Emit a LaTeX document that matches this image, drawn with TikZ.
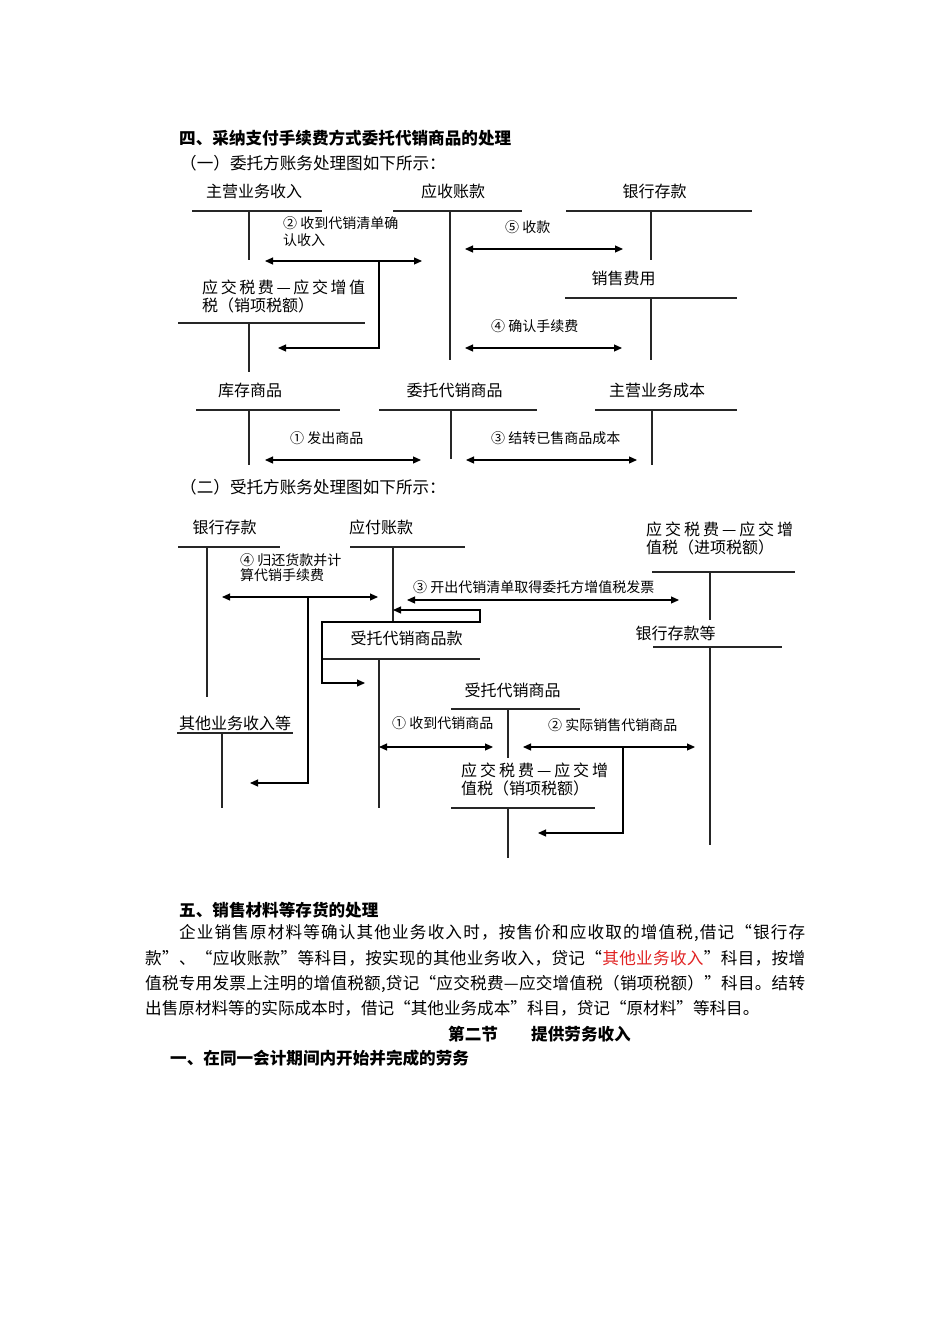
\documentclass[tikz,border=0pt]{standalone}
\usepackage{fontspec}
\usetikzlibrary{arrows.meta}
\newfontfamily\cjk{Noto Sans CJK SC}
\definecolor{redtxt}{RGB}{225,35,35}
\newcommand{\spreadbox}[2]{\hbox to #1{#2}}
\makeatletter
\newcommand{\sparr}[1]{\sp@a#1\@nil}
\def\sp@a#1{\ifx\@nil#1\unskip\else#1\hskip0pt plus 1fil\relax\expandafter\sp@a\fi}
\makeatother
\newcommand{\fillgap}{\hskip0pt plus 1fil\relax}
\tikzset{
  body/.style={font=\cjk\fontsize{16.6}{20}\selectfont, inner sep=0pt, anchor=west},
  acct/.style={font=\cjk\fontsize{16}{19}\selectfont, inner sep=0pt},
  acctw/.style={font=\cjk\fontsize{16}{19}\selectfont, inner sep=0pt, anchor=west},
  lbl/.style={font=\cjk\fontsize{14}{17}\selectfont, inner sep=0pt, anchor=west},
  tline/.style={line width=1.1pt, black!85},
  tip/.tip={Triangle[length=8pt,width=7pt]},
  dbl/.style={line width=1.1pt, tip-tip},
  sgl/.style={line width=1.1pt, -tip},
}
\begin{document}
\begin{tikzpicture}[x=1pt,y=-1pt]
\useasboundingbox (0,0) rectangle (950,1344);
\fill[white] (0,0) rectangle (950,1344);

% ---------- headings ----------
\node[body] (h4) at (179,138) {\bfseries 四、采纳支付手续费方式委托代销商品的处理};
\node[body] (h41) at (180,163) {（一）委托方账务处理图如下所示：};

% ---------- top diagram: accounts ----------
\node[acct] (zyysr) at (254,191) {主营业务收入};
\draw[tline] (192,211) -- (322,211);
\draw[tline] (249,211) -- (249,260);

\node[acct] (yszk) at (453,191) {应收账款};
\draw[tline] (393,211) -- (522,211);
\draw[tline] (450,211) -- (450,360);

\node[acct] (yhck1) at (654.5,191) {银行存款};
\draw[tline] (566,211) -- (752,211);
\draw[tline] (651,211) -- (651,260);

\node[acctw] (sjxx1a) at (202,287) {\spreadbox{163pt}{\sparr{应交税费—应交增值}}};
\node[acctw] (sjxx1b) at (202,305) {税（销项税额）};
\draw[tline] (178,323) -- (365,323);
\draw[tline] (249,323) -- (249,372);

\node[acct] (xsfy) at (623.5,278) {销售费用};
\draw[tline] (565,298) -- (737,298);
\draw[tline] (651,298) -- (651,360);

\node[acct] (kcsp) at (250,390) {库存商品};
\draw[tline] (196,410) -- (340,410);
\draw[tline] (249,410) -- (249,465);

\node[acct] (wtdx) at (454.5,390) {委托代销商品};
\draw[tline] (379,410) -- (537,410);
\draw[tline] (451,410) -- (451,459);

\node[acct] (zyycb) at (657,390) {主营业务成本};
\draw[tline] (595,410) -- (737,410);
\draw[tline] (652,410) -- (652,465);

% ---------- top diagram: arrows ----------
\node[lbl] (t2a) at (283,223) {② 收到代销清单确};
\node[lbl] (t2b) at (283,240) {认收入};
\coordinate (t2l) at (265,261); \coordinate (t2r) at (422,261);
\draw[dbl] (t2l) -- (t2r);
\coordinate (t2s) at (379,261); \coordinate (t2e) at (278,348);
\draw[sgl] (t2s) |- (t2e);

\node[lbl] (t5) at (505,227) {⑤ 收款};
\coordinate (t5l) at (465,249); \coordinate (t5r) at (623,249);
\draw[dbl] (t5l) -- (t5r);

\node[lbl] (t4) at (491,326) {④ 确认手续费};
\coordinate (t4l) at (465,348); \coordinate (t4r) at (622,348);
\draw[dbl] (t4l) -- (t4r);

\node[lbl] (t1) at (290,438) {① 发出商品};
\coordinate (t1l) at (265,460); \coordinate (t1r) at (421,460);
\draw[dbl] (t1l) -- (t1r);

\node[lbl] (t3) at (491,438) {③ 结转已售商品成本};
\coordinate (t3l) at (466,460); \coordinate (t3r) at (637,460);
\draw[dbl] (t3l) -- (t3r);

% ---------- second heading ----------
\node[body] (h42) at (180,487) {（二）受托方账务处理图如下所示：};

% ---------- lower diagram: accounts ----------
\node[acct] (yhck2) at (224.5,527) {银行存款};
\draw[tline] (178,547) -- (280,547);
\draw[tline] (207,547) -- (207,697);

\node[acct] (yfzk) at (381,527) {应付账款};
\draw[tline] (350,547) -- (465,547);
\draw[tline] (393,547) -- (393,622);

\node[acctw] (jxa) at (646,529) {\spreadbox{147pt}{\sparr{应交税费—应交增}}};
\node[acctw] (jxb) at (646,547) {值税（进项税额）};
\draw[tline] (652,572) -- (795,572);
\draw[tline] (710,572) -- (710,620);

\node[acct] (stk) at (406.5,638) {受托代销商品款};
\draw[tline] (322,659) -- (480,659);
\draw[tline] (379,659) -- (379,808);

\node[acct] (yhckd) at (675.5,633) {银行存款等};
\draw[tline] (653,647) -- (782,647);
\draw[tline] (710,647) -- (710,845);

\node[acct] (qtyw) at (235,723) {其他业务收入等};
\draw[tline] (177,733) -- (293,733);
\draw[tline] (222,733) -- (222,808);

\node[acct] (stsp) at (512.5,690) {受托代销商品};
\draw[tline] (451,709) -- (580,709);
\draw[tline] (508,709) -- (508,758);

\node[acctw] (xxa) at (461,770) {\spreadbox{147pt}{\sparr{应交税费—应交增}}};
\node[acctw] (xxb) at (461,788) {值税（销项税额）};
\draw[tline] (451,808) -- (595,808);
\draw[tline] (508,808) -- (508,858);

% ---------- lower diagram: arrows ----------
\node[lbl] (b4a) at (240,560) {④ 归还货款并计};
\node[lbl] (b4b) at (240,575) {算代销手续费};
\coordinate (b4l) at (222,597); \coordinate (b4r) at (378,597);
\draw[dbl] (b4l) -- (b4r);
\coordinate (b4s) at (308,597); \coordinate (b4e) at (250,783);
\draw[sgl] (b4s) |- (b4e);

\node[lbl] (b3) at (413,587) {③ 开出代销清单取得委托方增值税发票};
\coordinate (b3l) at (407,600); \coordinate (b3r) at (679,600);
\draw[dbl] (b3l) -- (b3r);

\coordinate (lpa) at (393,610); \coordinate (lpb) at (365,683);
\draw[dbl] (lpa) -- (480,610) -- (480,622) -- (322,622) -- (322,683) -- (lpb);

\node[lbl] (b1) at (392,723) {① 收到代销商品};
\coordinate (b1l) at (379,747); \coordinate (b1r) at (493,747);
\draw[dbl] (b1l) -- (b1r);

\node[lbl] (b2) at (548,725) {② 实际销售代销商品};
\coordinate (b2l) at (523,747); \coordinate (b2r) at (695,747);
\draw[dbl] (b2l) -- (b2r);
\coordinate (b2s) at (623,747); \coordinate (b2e) at (538,833);
\draw[sgl] (b2s) |- (b2e);

% ---------- text section ----------
\node[body] (h5) at (179,910) {\bfseries 五、销售材料等存货的处理};
\node[body] (p1) at (179,933) {\spreadbox{626pt}{\sparr{企业销售原材料等确认其他业务收入时，按售价和应收取的增值税,借记“银行存}}};
\node[body] (p2) at (145,958) {\spreadbox{660pt}{\sparr{款”、“应收账款”等科目，按实现的其他业务收入，贷记“}\fillgap\textcolor{redtxt}{\sparr{其他业务收入}}\fillgap\sparr{”科目，按增}}};
\node[body] (p3) at (145,984) {\spreadbox{660pt}{\sparr{值税专用发票上注明的增值税额,贷记“应交税费—应交增值税（销项税额）”科目。结转}}};
\node[body] (p4) at (145,1008) {出售原材料等的实际成本时，借记“其他业务成本”科目，贷记“原材料”等科目。};
\node[body] (s2a) at (448,1034) {\bfseries 第二节};
\node[body] (s2b) at (531,1034) {\bfseries 提供劳务收入};
\node[body] (h1) at (170,1058) {\bfseries 一、在同一会计期间内开始并完成的劳务};
\end{tikzpicture}
\end{document}
